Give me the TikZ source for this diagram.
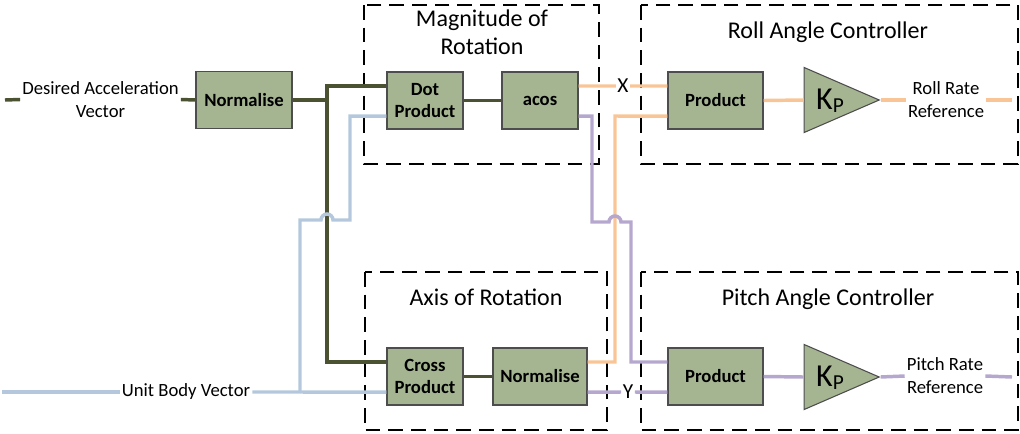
\documentclass[tikz,border=0pt]{standalone}
\usepackage{fontspec}
\setmainfont{Carlito}
\usetikzlibrary{calc,shapes.geometric}

\definecolor{boxfill}{HTML}{A5B592}
\definecolor{boxedge}{HTML}{4D4D4D}
\definecolor{darkwire}{HTML}{4B5232}
\definecolor{bluewire}{HTML}{B4C7DC}
\definecolor{orangewire}{HTML}{F9C596}
\definecolor{purplewire}{HTML}{B6A7CE}

\tikzset{
  block/.style={draw=boxedge,fill=boxfill,line width=0.8pt,minimum height=42.75pt,
    align=center,inner sep=1pt,font=\fontsize{14}{16.5}\selectfont\bfseries},
  gainbox/.style={draw=boxedge,fill=boxfill,line width=0.8pt,isosceles triangle,
    isosceles triangle stretches,minimum width=48.75pt,minimum height=56.25pt,inner sep=0pt},
  groupbox/.style={draw=black,line width=1.6pt,dash pattern=on 11pt off 6pt},
  grouptitle/.style={font=\fontsize{18}{21}\selectfont,align=center},
  sigtext/.style={font=\fontsize{14}{17.25}\selectfont,align=center,inner sep=1.5pt},
  kptext/.style={font=\fontsize{24}{24}\selectfont,inner sep=0pt},
  wire/.style={line width=2.6pt},
}
\newcommand{\kpsub}{K{\fontsize{16}{16}\selectfont\raisebox{-2.5pt}{P}}}

\begin{document}
\begin{tikzpicture}[x=0.75pt,y=-0.75pt]
                \useasboundingbox (0,0) rectangle (1020,433);

                % dashed groups
                \draw[groupbox] (364,5) rectangle (599,164);
                \draw[groupbox] (365,272) rectangle (607,430);
                \draw[groupbox] (641,5) rectangle (1018,164);
                \draw[groupbox] (641,272) rectangle (1018,430);

                \node[grouptitle] (magt) at (482,32) {Magnitude of\\Rotation};
                \node[grouptitle] (axist) at (486,297) {Axis of Rotation};
                \node[grouptitle] (rollt) at (828,32) {Roll Angle Controller};
                \node[grouptitle] (pitcht) at (828,299) {Pitch Angle Controller};

                % blocks
                \node[block,minimum width=72pt] (norm) at (244,100) {Normalise};
                \node[block,minimum width=57pt] (dot) at (425,100.5) {Dot\\Product};
                \node[block,minimum width=57pt] (acos) at (540,100.5) {acos};
                \node[block,minimum width=57pt] (cross) at (425,376.5) {Cross\\Product};
                \node[block,minimum width=70.5pt] (norma) at (540,376.5) {Normalise};
                \node[block,minimum width=71.25pt] (rprod) at (715.5,100.5) {Product};
                \node[block,minimum width=71.25pt] (pprod) at (715.5,376.5) {Product};

                \node[gainbox] (rkp) at (825.5,100) {};
                \node[gainbox] (pkp) at (825.5,377) {};
                \node[kptext] (rkptext) at (830,101) {\kpsub};
                \node[kptext] (pkptext) at (830,378) {\kpsub};

                % texts on the wires
                \node[sigtext] (des) at (100.5,99.5) {Desired Acceleration\\Vector};
                \node[sigtext] (ubv) at (186,392) {Unit Body Vector};
                \node[sigtext,font=\fontsize{16}{16}\selectfont,inner sep=1pt] (xlab) at (623,86) {X};
                \node[sigtext,font=\fontsize{16}{16}\selectfont,inner sep=1pt] (ylab) at (628,392) {Y};
                \node[sigtext] (rrr) at (946,100) {Roll Rate\\Reference};
                \node[sigtext] (prr) at (945,376) {Pitch Rate\\Reference};

                % ports
                \coordinate (dotA) at ($(dot.north west)!.25!(dot.south west)$);
                \coordinate (dotB) at ($(dot.north west)!.77!(dot.south west)$);
                \coordinate (acosA) at ($(acos.north east)!.25!(acos.south east)$);
                \coordinate (acosB) at ($(acos.north east)!.77!(acos.south east)$);
                \coordinate (crossA) at ($(cross.north west)!.25!(cross.south west)$);
                \coordinate (crossB) at ($(cross.north west)!.77!(cross.south west)$);
                \coordinate (normaA) at ($(norma.north east)!.25!(norma.south east)$);
                \coordinate (normaB) at ($(norma.north east)!.77!(norma.south east)$);
                \coordinate (rprodA) at ($(rprod.north west)!.25!(rprod.south west)$);
                \coordinate (rprodB) at ($(rprod.north west)!.77!(rprod.south west)$);
                \coordinate (pprodA) at ($(pprod.north west)!.25!(pprod.south west)$);
                \coordinate (pprodB) at ($(pprod.north west)!.77!(pprod.south west)$);
                \coordinate (dstart) at (5,100);
                \coordinate (ustart) at (2,392);
                \coordinate (djoin) at (327,100);
                \coordinate (ujoin) at (300,392);
                \coordinate (rend) at (1012,100);
                \coordinate (pend) at (1012,377);

                % dark wires
                \draw[wire,darkwire] (dstart) -- (des.west);
                \draw[wire,darkwire] (des.east) -- (norm.west);
                \draw[wire,darkwire] (norm.east) -- (djoin);
                \draw[wire,darkwire] (djoin) |- (dotA);
                \draw[wire,darkwire] (djoin) |- (crossA);
                \draw[wire,darkwire] (dot.east) -- (acos.west);
                \draw[wire,darkwire] (cross.east) -- (norma.west);

                % blue wires
                \draw[wire,bluewire] (ustart) -- (ubv.west);
                \draw[wire,bluewire] (ubv.east) -- (ujoin) -- (crossB);
                \draw[wire,bluewire] (ujoin) -- (300,220) -- (321,220)
                    arc[start angle=180,end angle=0,radius=4.5pt] -- (350,220) |- (dotB);

                % orange wires
                \draw[wire,orangewire] (acosA) -- (xlab.west);
                \draw[wire,orangewire] (xlab.east) -- (rprodA);
                \draw[wire,orangewire] (normaA) -- (615,362) -- (615,116) -- (rprodB);
                \draw[wire,orangewire] (rprod.east) -- (rkp.west);
                \draw[wire,orangewire] (rkp.east) -- (rrr.west);
                \draw[wire,orangewire] (rrr.east) -- (rend);

                % purple wires
                \draw[wire,purplewire] (acosB) -| (592,222) -- (609,222)
                    arc[start angle=180,end angle=0,radius=4.5pt] -- (631,222) |- (pprodA);
                \draw[wire,purplewire] (normaB) -- (ylab.west);
                \draw[wire,purplewire] (ylab.east) -- (pprodB);
                \draw[wire,purplewire] (pprod.east) -- (pkp.west);
                \draw[wire,purplewire] (pkp.east) -- (prr.west);
                \draw[wire,purplewire] (prr.east) -- (pend);
            \end{tikzpicture}
\end{document}
